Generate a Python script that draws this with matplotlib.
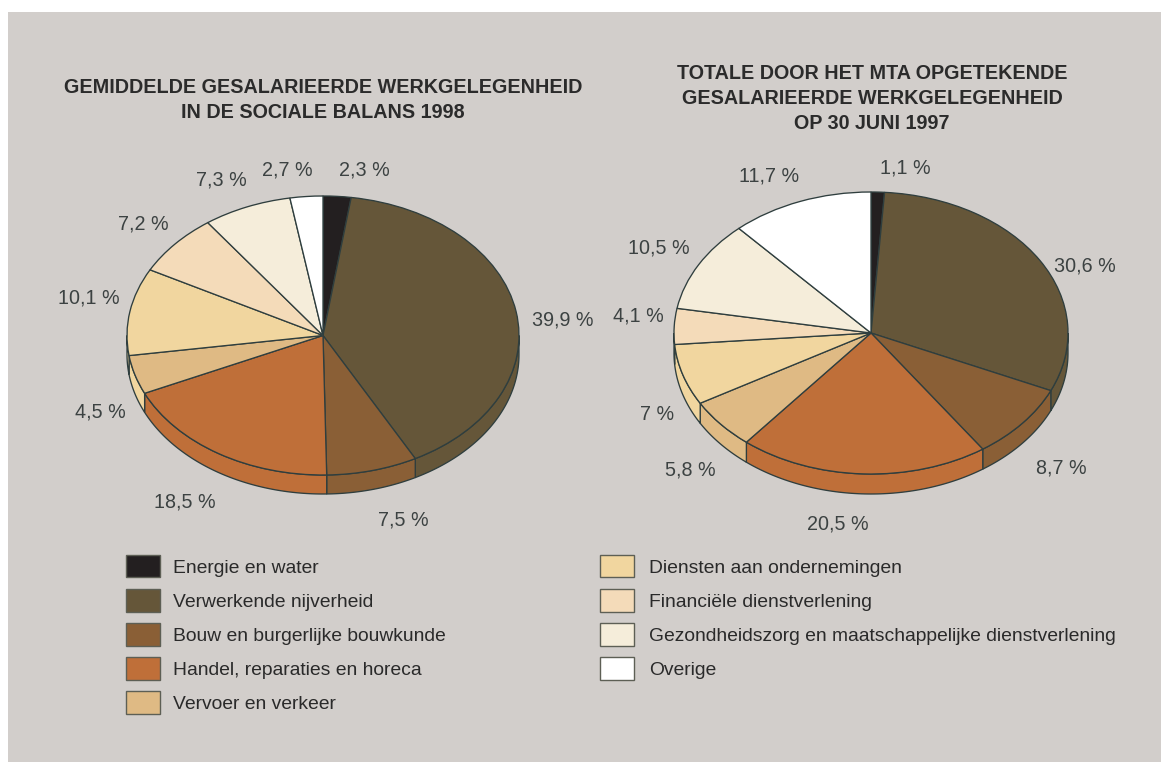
import numpy as np
import matplotlib
matplotlib.use("Agg")
import matplotlib.pyplot as plt
from matplotlib.patches import Patch, Rectangle

plt.rcParams['font.family'] = ['Liberation Sans', 'DejaVu Sans']

W, H = 1161, 769

categories = ["Energie en water", "Verwerkende nijverheid", "Bouw en burgerlijke bouwkunde",
              "Handel, reparaties en horeca", "Vervoer en verkeer", "Diensten aan ondernemingen",
              "Financiële dienstverlening", "Gezondheidszorg en maatschappelijke dienstverlening",
              "Overige"]
values_1998 = [2.3, 39.9, 7.5, 18.5, 4.5, 10.1, 7.2, 7.3, 2.7]
values_1997 = [1.1, 30.6, 8.7, 20.5, 5.8, 7, 4.1, 10.5, 11.7]
colors = ["#231f20", "#655639", "#8a5f36", "#bf6f39", "#dfba84", "#f1d69f", "#f4dbb9", "#f5edda", "#ffffff"]
wall_1998 = ["#231f20", "#655639", "#8a5f36", "#bf6f39", "#f1d69f", "#f1d69f", "#f4dbb9", "#f5edda", "#ffffff"]
title_1998 = ["GEMIDDELDE GESALARIEERDE WERKGELEGENHEID", "IN DE SOCIALE BALANS 1998"]
title_1997 = ["TOTALE DOOR HET MTA OPGETEKENDE", "GESALARIEERDE WERKGELEGENHEID", "OP 30 JUNI 1997"]

# label baselines, in pixels of the picture
pos_1998 = [(364, 176), (563, 326), (403, 525), (185, 507), (100, 417), (89, 303), (143, 229), (221, 186), (287, 176)]
pos_1997 = [(905, 174), (1085, 272), (1061, 473), (838, 529), (690, 475), (657, 420), (638, 322), (659, 253), (769, 182)]

EDGE = "#2f3e3e"
LABEL = "#3c4242"
DARK = "#2a2a2a"
FS = 14.2
FS_LEG = 13.9

fig = plt.figure(figsize=(W / 100, H / 100), dpi=100, facecolor="white")
fig.patches.append(Rectangle((8 / W, 1 - 762 / H), (W - 8) / W, 750 / H, transform=fig.transFigure,
                             facecolor="#d2cecb", edgecolor="none", zorder=-5))


def fx(x):
    return x / W


def fy(y):
    return 1 - y / H


def draw_pie(values, walls, cx, cy, rx, ry, depth):
    pad = 4
    d = depth / ry
    ax = fig.add_axes([fx(cx - rx - pad), fy(cy + ry + depth + pad),
                       (2 * rx + 2 * pad) / W, (2 * ry + depth + 2 * pad) / H])
    ax.patch.set_visible(False)
    ax.pie(values, colors=colors, startangle=90, counterclock=False, radius=1,
           wedgeprops=dict(edgecolor=EDGE, linewidth=0.95))
    ax.set_aspect("auto")
    ax.set_xlim(-1 - pad / rx, 1 + pad / rx)
    ax.set_ylim(-1 - d - pad / ry, 1 + pad / ry)
    ax.set_axis_off()
    # side wall of the front half of the disc
    bounds = 90 - np.concatenate([[0], np.cumsum(values)]) * 3.6
    for a, b, col in zip(bounds[:-1], bounds[1:], walls):
        hi, lo = min(a, 0), max(b, -180)
        if hi <= lo:
            continue
        t = np.radians(np.linspace(hi, lo, 80))
        xs = np.concatenate([np.cos(t), np.cos(t)[::-1]])
        ys = np.concatenate([np.sin(t), np.sin(t)[::-1] - d])
        ax.fill(xs, ys, facecolor=col, edgecolor=EDGE, linewidth=0.95, zorder=0.5)
    return ax


draw_pie(values_1998, wall_1998, 323, 335.5, 196, 139.5, 19)
draw_pie(values_1997, colors, 871, 333, 197, 141, 20)

for vals, pos in ((values_1998, pos_1998), (values_1997, pos_1997)):
    for v, (x, y) in zip(vals, pos):
        fig.text(fx(x), fy(y), f"{v:g} %".replace(".", ","), ha="center", va="baseline",
                 fontsize=FS, color=LABEL)

for lines, cx, ys in ((title_1998, 323, (93, 118)), (title_1997, 872, (79, 104, 129))):
    for line, y in zip(lines, ys):
        fig.text(fx(cx), fy(y), line, ha="center", va="baseline", fontsize=14.2,
                 fontweight="bold", color="#2b2b2b")


def legend(idx, x, top, gap):
    px = FS_LEG * 100 / 72
    handles = [Patch(facecolor=colors[i], edgecolor="#5d5f55", linewidth=1.0, label=categories[i]) for i in idx]
    return fig.legend(handles=handles, loc="upper left", bbox_to_anchor=(fx(x), fy(top)),
                      frameon=False, fontsize=FS_LEG, borderpad=0, borderaxespad=0,
                      handlelength=34 / px, handleheight=1.41,
                      handletextpad=gap / px, labelspacing=11.7 / px, labelcolor=DARK)


legend(range(5), 126, 555, 13)
legend(range(5, 9), 600, 555, 15)

fig.savefig("out.png", dpi=100, facecolor=fig.get_facecolor())
